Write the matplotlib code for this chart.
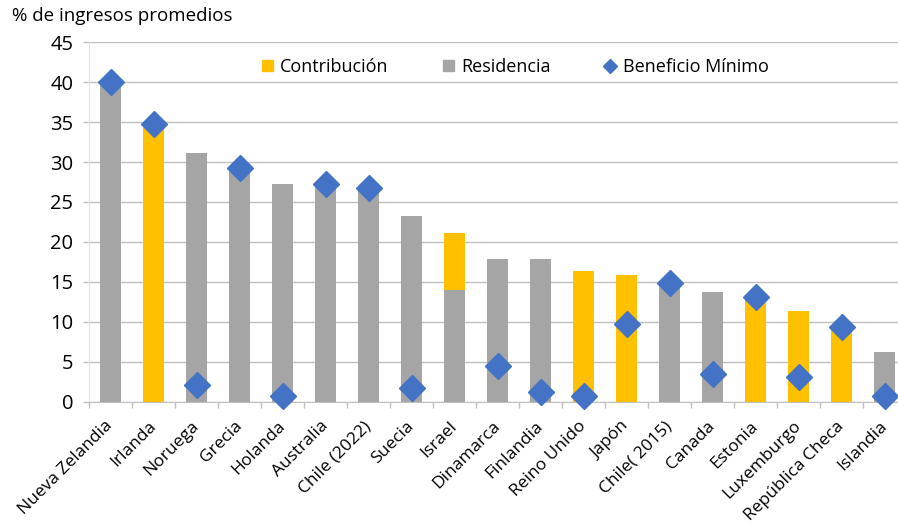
import matplotlib
matplotlib.use("Agg")
import matplotlib.pyplot as plt
from matplotlib.patches import Patch
from matplotlib.lines import Line2D
import numpy as np

categories = ["Nueva Zelandia", "Irlanda", "Noruega", "Grecia", "Holanda", "Australia",
              "Chile (2022)", "Suecia", "Israel", "Dinamarca", "Finlandia", "Reino Unido",
              "Japón", "Chile( 2015)", "Canada", "Estonia", "Luxemburgo", "República Checa",
              "Islandia"]
residencia = [40.0, 0, 31.1, 29.0, 27.2, 27.0, 26.5, 23.2, 14.0, 17.8, 17.8, 0,
              0, 14.8, 13.7, 0, 0, 0, 6.2]
contribucion = [0, 34.5, 0, 0, 0, 0, 0, 0, 7.1, 0, 0, 16.4,
                15.8, 0, 0, 12.8, 11.3, 9.0, 0]
beneficio_minimo = [40.0, 34.8, 2.1, 29.2, 0.7, 27.2, 26.7, 1.7, np.nan, 4.4, 1.2, 0.7,
                    9.75, 14.85, 3.5, 13.1, 3.05, 9.3, 0.7]

plt.rcParams['font.family'] = ['Open Sans', 'DejaVu Sans']

GRAY = "#A5A5A5"
YELLOW = "#FFC000"
BLUE = "#4472C4"
GRID = "#BFBFBF"

fig = plt.figure(figsize=(8.98, 5.31), dpi=100)
ax = fig.add_axes([89/898, 129.5/531, 817/898, 359.2/531])

x = np.arange(len(categories))
w = 0.48
ax.bar(x, contribucion, w, bottom=residencia, color=YELLOW, label="Contribución", zorder=2)
ax.bar(x, residencia, w, color=GRAY, label="Residencia", zorder=2)
ax.plot(x, beneficio_minimo, linestyle="none", marker="D", markersize=13.5,
        color=BLUE, label="Beneficio Mínimo", zorder=3, clip_on=False)

ax.set_xlim(-0.5, len(categories) - 0.5)
ax.set_ylim(0, 45)
ax.set_yticks(np.arange(0, 46, 5))
ax.yaxis.grid(True, color=GRID, linewidth=1.0, zorder=0)
ax.set_axisbelow(True)
ax.tick_params(axis="y", length=4.3, width=1.0, color=GRID, labelsize=14.5, pad=7)

ax.set_xticks(x)
ax.set_xticklabels(categories, rotation=45, ha="right", va="center",
                   rotation_mode="anchor", fontsize=12.5)
ax.set_xticks(np.arange(-0.5, len(categories), 1), minor=True)
ax.tick_params(axis="x", which="major", length=0, pad=16)
ax.tick_params(axis="x", which="minor", length=4.5, color=GRID, width=1)

for s in ["top", "right"]:
    ax.spines[s].set_visible(False)
ax.spines["left"].set_color("#E3E3E3")
ax.spines["bottom"].set_color(GRID)

handles = [Patch(color=YELLOW), Patch(color=GRAY),
           Line2D([], [], linestyle="none", marker="D", color=BLUE, markersize=7)]
labels = ["Contribución", "Residencia", "Beneficio Mínimo"]
ax.legend(handles, labels, ncol=3, frameon=False,
          loc="center", bbox_to_anchor=(0.522, 0.931), fontsize=13,
          handlelength=0.6, handleheight=0.6, handletextpad=0.4,
          columnspacing=3.0)

fig.text(12/898, 1 - 16/531, "% de ingresos promedios", fontsize=13.5, va="center", ha="left")

fig.savefig("out.png", dpi=100)
